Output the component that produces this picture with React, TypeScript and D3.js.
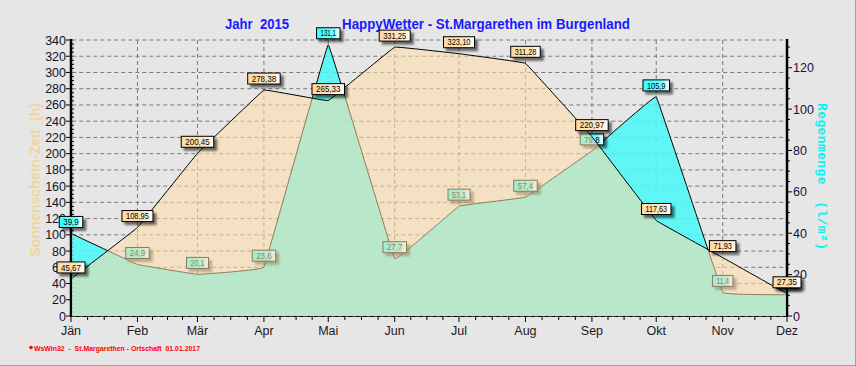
import React from 'react';
import * as d3 from 'd3';

const months = ['Jän', 'Feb', 'Mär', 'Apr', 'Mai', 'Jun', 'Jul', 'Aug', 'Sep', 'Okt', 'Nov', 'Dez'];
const sunshine = [45.67, 108.95, 200.45, 278.38, 265.33, 331.25, 323.10, 311.28, 220.97, 117.63, 71.93, 27.35];
const rain = [39.9, 24.9, 20.1, 23.6, 131.1, 27.7, 53.1, 57.4, 79.8, 105.9, 11.4, 10.3];
const leftTicks = [0, 20, 40, 60, 80, 100, 120, 140, 160, 180, 200, 220, 240, 260, 280, 300, 320, 340];
const rightTicks = [0, 20, 40, 60, 80, 100, 120];

const W = 856;
const H = 366;
const X0 = 71, X1 = 787, Y0 = 316, Y1 = 40;

const dates = months.map((_, i) => new Date(2015, i, 1));
const x = d3.scaleTime().domain([dates[0], dates[dates.length - 1]]).range([X0, X1]);
const yL = d3.scaleLinear().domain([0, 340]).range([Y0, Y1]);
const yR = d3.scaleLinear().domain([0, 133.4]).range([Y0, Y1]);

const curve = d3.curveCardinal.tension(0.92);

const fmt2 = (v: number) => d3.format('.2f')(v).replace('.', ',');
const fmt1 = (v: number) => d3.format('.1f')(v).replace('.', ',');
const textW = (s: string) => s.split('').reduce((a, c) => a + (c === '1' ? 3 : c === ',' ? 2 : 4.5), 0);

function Label({ cx, py, text, grad }: { cx: number; py: number; text: string; grad: string }) {
  const tw = textW(text);
  const w = tw + 8;
  const h = 11;
  const bx = cx - w / 2;
  const by = py - 6 - h;
  return (
    <g>
      <rect x={bx} y={by} width={w} height={h} fill={`url(#${grad})`} stroke="#000" strokeWidth={1} filter="url(#shadow)" />
      <text x={cx} y={by + h - 2.3} textAnchor="middle" fontSize={9} fontFamily="Liberation Sans, Arial, sans-serif" fill="#000" textLength={tw} lengthAdjust="spacingAndGlyphs">{text}</text>
    </g>
  );
}

export default function App() {
  const rainArea = d3.area<number>().x((_, i) => x(dates[i])).y0(Y0).y1((d) => yR(d)).curve(curve)(rain) || '';
  const rainLine = d3.line<number>().x((_, i) => x(dates[i])).y((d) => yR(d)).curve(curve)(rain) || '';
  const sunArea = d3.area<number>().x((_, i) => x(dates[i])).y0(Y0).y1((d) => yL(d)).curve(curve)(sunshine) || '';
  const sunLine = d3.line<number>().x((_, i) => x(dates[i])).y((d) => yL(d)).curve(curve)(sunshine) || '';

  const minorX: number[] = [];
  for (let i = 0; i < dates.length - 1; i++) {
    const a = x(dates[i]);
    const b = x(dates[i + 1]);
    for (let k = 1; k < 4; k++) minorX.push(a + ((b - a) * k) / 4);
  }
  const leftMinor = d3.range(0, 341, 5).filter((v) => v % 20 !== 0);
  const rightMinor = d3.range(0, 133, 5).filter((v) => v % 20 !== 0);
  const font = 'Liberation Sans, Arial, sans-serif';

  return (
    <svg width={W} height={H} style={{ position: 'absolute', left: 0, top: 0, display: 'block' }}>
      <defs>
        <linearGradient id="sunGrad" x1="0" x2="1" y1="0" y2="0">
          <stop offset="0" stopColor="#FFD9A0" />
          <stop offset="0.7" stopColor="#FFE6C0" />
          <stop offset="1" stopColor="#FFFFFF" />
        </linearGradient>
        <linearGradient id="rainGrad" x1="0" x2="1" y1="0" y2="0">
          <stop offset="0" stopColor="#30FFFF" />
          <stop offset="0.7" stopColor="#70FFFF" />
          <stop offset="1" stopColor="#FFFFFF" />
        </linearGradient>
        <filter id="shadow" x="-30%" y="-50%" width="160%" height="200%">
          <feDropShadow dx={3} dy={3} stdDeviation={1.2} floodColor="#000" floodOpacity={0.55} />
        </filter>
        <clipPath id="plotClip">
          <rect x={X0 + 1.25} y={0} width={X1 - X0 - 2.5} height={Y0} />
        </clipPath>
      </defs>
      <rect x={0} y={0} width={W} height={H} fill="#E6E6E6" />
      <line x1={0} x2={W} y1={H - 0.5} y2={H - 0.5} stroke="#A0A0A0" />
      <line x1={W - 0.5} x2={W - 0.5} y1={0} y2={H} stroke="#A0A0A0" />

      {/* title */}
      <text x={225} y={29} fontSize={14} fontWeight="bold" fontFamily={font} fill="#1A1AFF" style={{ whiteSpace: 'pre' }} textLength={64} lengthAdjust="spacingAndGlyphs">{'Jahr  2015'}</text>
      <text x={342} y={29} fontSize={14} fontWeight="bold" fontFamily={font} fill="#1A1AFF" textLength={288} lengthAdjust="spacingAndGlyphs">HappyWetter - St.Margarethen im Burgenland</text>

      {/* axis tick labels */}
      {leftTicks.map((v) => (
        <text key={'ltl' + v} x={66} y={yL(v) + 4.5} textAnchor="end" fontSize={12.5} fontFamily={font} fill="#14142A">{v}</text>
      ))}
      {rightTicks.map((v) => (
        <text key={'rtl' + v} x={793} y={yR(v) + 4.5} textAnchor="start" fontSize={12.5} fontFamily={font} fill="#1C1040">{v}</text>
      ))}
      {dates.map((d, i) => (
        <text key={'btl' + i} x={x(d)} y={335} textAnchor="middle" fontSize={12.5} fontFamily={font} fill="#1A1A1A">{months[i]}</text>
      ))}

      {/* axis titles */}
      <text transform="translate(40,180) rotate(-90)" textAnchor="middle" fontSize={14} fontWeight="bold" fontFamily={font} fill="#F3D49A" style={{ whiteSpace: 'pre' }} textLength={154} lengthAdjust="spacingAndGlyphs">{'Sonnenschein-Zeit  (h)'}</text>
      <text transform="translate(818,176.5) rotate(90)" textAnchor="middle" fontSize={13} fontWeight="bold" fontFamily="Liberation Mono, DejaVu Sans Mono, monospace" fill="#00F4F4" style={{ whiteSpace: 'pre' }} textLength={147} lengthAdjust="spacing">{'Regenmenge  (l/m²)'}</text>

      {/* axes lines and ticks */}
      <line x1={X0} x2={X1} y1={Y0 + 0.5} y2={Y0 + 0.5} stroke="#000" strokeWidth={1} />
      <line x1={X0} x2={X0} y1={Y1 - 1} y2={Y0 + 1} stroke="#000" strokeWidth={2.5} />
      <line x1={X1} x2={X1} y1={Y1 - 1} y2={Y0 + 1} stroke="#000" strokeWidth={2.5} />
      {leftTicks.map((v) => (
        <line key={'lt' + v} x1={X0 - 5} x2={X0 + 2} y1={yL(v)} y2={yL(v)} stroke="#000" />
      ))}
      {leftMinor.map((v) => (
        <line key={'lm' + v} x1={X0} x2={X0 + 3} y1={yL(v)} y2={yL(v)} stroke="#000" />
      ))}
      {rightTicks.map((v) => (
        <line key={'rt' + v} x1={X1} x2={X1 + 5} y1={yR(v)} y2={yR(v)} stroke="#000" />
      ))}
      {rightMinor.map((v) => (
        <line key={'rm' + v} x1={X1} x2={X1 + 3} y1={yR(v)} y2={yR(v)} stroke="#000" />
      ))}
      {dates.map((d, i) => (
        <line key={'bt' + i} x1={x(d)} x2={x(d)} y1={Y0} y2={Y0 + 6} stroke="#000" />
      ))}
      {minorX.map((mx, i) => (
        <line key={'bm' + i} x1={mx} x2={mx} y1={Y0} y2={Y0 + 4} stroke="#000" />
      ))}

      {/* grid */}
      {leftTicks.map((v) => (
        <line key={'gh' + v} x1={X0 + 1.25} x2={X1 - 1.25} y1={yL(v)} y2={yL(v)} stroke="#7A7A7A" strokeDasharray="4,3" />
      ))}
      {dates.slice(1, -1).map((d, i) => (
        <line key={'gv' + i} x1={x(d)} x2={x(d)} y1={Y1} y2={Y0} stroke="#7A7A7A" strokeDasharray="4,3" />
      ))}

      {/* rain layer */}
      <g clipPath="url(#plotClip)">
        <path d={rainArea} fill="#4DF8F8" fillOpacity={0.88} />
        <path d={rainLine} fill="none" stroke="#000" strokeWidth={1} />
      </g>
      {rain.map((v, i) => (
        <Label key={'rl' + i} cx={x(dates[i])} py={yR(v)} text={fmt1(v)} grad="rainGrad" />
      ))}

      {/* sunshine layer */}
      <g clipPath="url(#plotClip)">
        <path d={sunArea} fill="rgb(255,220,165)" fillOpacity={0.56} />
        <path d={sunLine} fill="none" stroke="#000" strokeWidth={1} />
      </g>
      {sunshine.map((v, i) => (
        <Label key={'sl' + i} cx={x(dates[i])} py={yL(v)} text={fmt2(v)} grad="sunGrad" />
      ))}

      {/* footer */}
      <circle cx={31} cy={347.5} r={1.8} fill="#FF0000" />
      <text x={34} y={350.5} fontSize={8} fontWeight="bold" fontFamily={font} fill="#FF0000" style={{ whiteSpace: 'pre' }} textLength={166} lengthAdjust="spacingAndGlyphs">{'WsWin32  -  St.Margarethen - Ortschaft  01.01.2017'}</text>
    </svg>
  );
}
